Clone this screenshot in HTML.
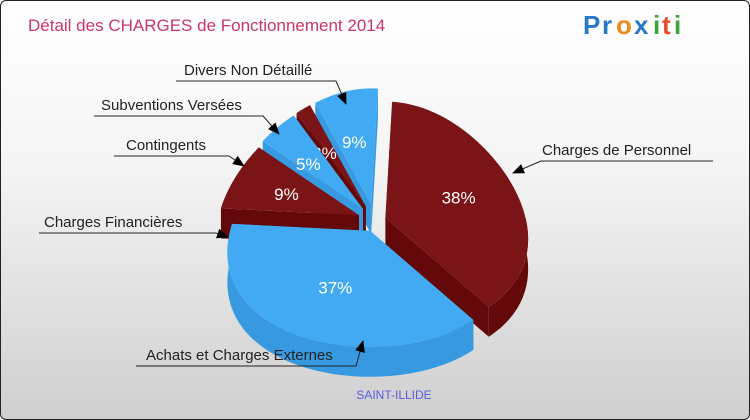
<!DOCTYPE html>
<html><head><meta charset="utf-8"><style>
body{margin:0;width:750px;height:420px;overflow:hidden;font-family:"Liberation Sans",sans-serif}
#wrap{position:absolute;left:0;top:0;width:748px;height:418px;border:1px solid #222;border-radius:6px;background:linear-gradient(#ffffff 0%,#f4f4f4 40%,#cfcfcf 100%);overflow:hidden}
</style></head><body>
<div id="wrap">
<svg id="svg" width="750" height="420" xmlns="http://www.w3.org/2000/svg">
<defs><marker id="ar" markerWidth="12" markerHeight="10" refX="11" refY="5" orient="auto" markerUnits="userSpaceOnUse"><path d="M0,0 L12,5 L0,10 z" fill="#000"/></marker></defs>
<text x="27" y="30" font-size="17" fill="#c8366a">Détail des CHARGES de Fonctionnement 2014</text>
<g font-size="26" font-weight="bold">
<text x="582" y="33" fill="#2a78c8">P</text><text x="601" y="33" fill="#2a78c8">r</text><text x="615" y="33" fill="#f08a1c">o</text><text x="633" y="33" fill="#2a78c8">x</text><text x="652" y="33" fill="#3aa63a">i</text><text x="661" y="33" fill="#e84a2a">t</text><text x="673" y="33" fill="#3aa63a">i</text></g>
<g id="pie"></g>
<g id="labels"></g>
<text x="393" y="398" font-size="12" fill="#5a5ae0" text-anchor="middle">SAINT-ILLIDE</text>
</svg></div>
<script>
const categories=["Charges de Personnel","Achats et Charges Externes","Charges Financières","Contingents","Subventions Versées","Divers Non Détaillé"];
const values=[38,37,9,5,2,9];
const NS="http://www.w3.org/2000/svg";
const cx=374,cy=220,rx=140,ry=116,depth=30,exp=11,start=0.06,persp=0.2;
const colors=[["#7a1416","#640909"],["#42aaf2","#379ae0"],["#7a1416","#640909"],["#42aaf2","#379ae0"],["#7a1416","#640909"],["#42aaf2","#379ae0"]];
const pie=document.getElementById('pie');
const total=values.reduce((a,b)=>a+b,0);
function pt(ox,oy,t,d){const f=1-persp*Math.cos(t);return [ox+rx*Math.sin(t)*f,oy-ry*Math.cos(t)+(d||0)];}
function mk(d,fill,name){const p=document.createElementNS(NS,'path');p.setAttribute('d',d);p.setAttribute('fill',fill);


return p;}
let acc=0;const slices=[];
values.forEach((v,i)=>{const a0=start+acc/total*2*Math.PI;acc+=v;const a1=start+acc/total*2*Math.PI;const m=(a0+a1)/2;
const e=v<20?exp+6:exp;
slices.push({i,a0,a1,m,ox:cx+e*Math.sin(m),oy:cy-e*Math.cos(m)});});
const order=slices.slice().sort((a,b)=>Math.abs(b.m-Math.PI)-Math.abs(a.m-Math.PI));
order.forEach(s=>{const g=document.createElementNS(NS,'g');


const [c0,c1]=colors[s.i];
[s.a0,s.a1].forEach(a=>{const e=pt(s.ox,s.oy,a);g.appendChild(mk(`M${s.ox},${s.oy}L${e[0]},${e[1]}L${e[0]},${e[1]+depth}L${s.ox},${s.oy+depth}Z`,c1,'slice-side-wall'));});
const lo=Math.max(s.a0,Math.PI/2),hi=Math.min(s.a1,3*Math.PI/2);
if(hi>lo){let d='';const n=40;for(let k=0;k<=n;k++){const p=pt(s.ox,s.oy,lo+(hi-lo)*k/n);d+=(k?'L':'M')+p[0]+','+p[1];}
for(let k=n;k>=0;k--){const p=pt(s.ox,s.oy,lo+(hi-lo)*k/n,depth);d+='L'+p[0]+','+p[1];}
g.appendChild(mk(d+'Z',c1,'slice-outer-wall'));}
let d=`M${s.ox},${s.oy}`;const n=60;for(let k=0;k<=n;k++){const p=pt(s.ox,s.oy,s.a0+(s.a1-s.a0)*k/n);d+='L'+p[0]+','+p[1];}
g.appendChild(mk(d+'Z',c0,'slice-top'));
const lp=[s.ox+rx*0.55*Math.sin(s.m),s.oy-ry*0.55*Math.cos(s.m)];
const t=document.createElementNS(NS,'text');t.setAttribute('x',lp[0]);t.setAttribute('y',lp[1]+6);t.setAttribute('text-anchor','middle');
t.setAttribute('font-size','17');t.setAttribute('fill','#fff');t.textContent=values[s.i]+'%';


g.appendChild(t);pie.appendChild(g);});
const callouts=[[541,154,540,712,160,512,172],[145,359,135,355,365,362,340],[43,226,38,215,232,227,236],[125,149,113,228,155,243,165],[100,109,93,262,115,278,133],[183,74,175,335,80,345,103]];
const lab=document.getElementById('labels');
callouts.forEach((c,i)=>{const g=document.createElementNS(NS,'g');


const t=document.createElementNS(NS,'text');t.setAttribute('x',c[0]);t.setAttribute('y',c[1]);t.setAttribute('font-size','15');t.setAttribute('fill','#222');t.textContent=categories[i];
const left=i==0;
const p=document.createElementNS(NS,'path');p.setAttribute('d',left?`M${c[3]},${c[4]}L${c[2]},${c[4]}L${c[5]},${c[6]}`:`M${c[2]},${c[4]}L${c[3]},${c[4]}L${c[5]},${c[6]}`);
p.setAttribute('stroke','#222');p.setAttribute('fill','none');p.setAttribute('marker-end','url(#ar)');
g.appendChild(t);g.appendChild(p);lab.appendChild(g);});
</script>
</body></html>
